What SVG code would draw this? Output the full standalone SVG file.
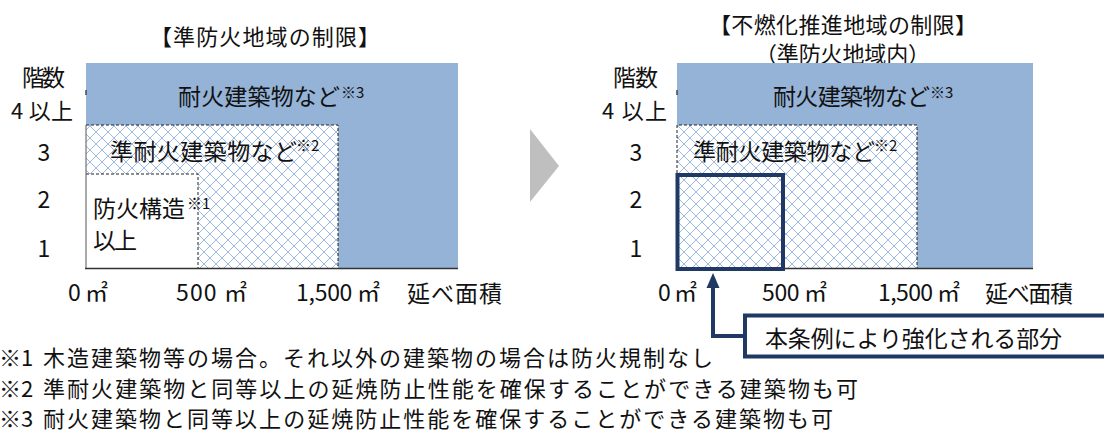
<svg xmlns="http://www.w3.org/2000/svg" width="1104" height="434" viewBox="0 0 1104 434">
<style>
text{font-family:"Noto Sans CJK JP","Noto Sans",sans-serif;fill:#111;}
.t{font-size:23px;}
.h{font-size:22px;}
.s{font-size:15px;}
.f{font-size:22px;}
.blue{fill:#95b3d7;}
.dash{fill:none;stroke:#222;stroke-width:1;stroke-dasharray:3 2;}
.axis{stroke:#333;stroke-width:1.6;fill:none;}
.navy{stroke:#1f3864;stroke-width:4;fill:none;}
</style>
<defs>
<pattern id="hatch" patternUnits="userSpaceOnUse" width="12" height="12">
<rect width="12" height="12" fill="#fff"/>
<path d="M0 0L12 12M12 0L0 12" stroke="#9dbae3" stroke-width="1"/>
</pattern>
</defs>
<rect width="1104" height="434" fill="#fff"/>

<!-- Titles -->
<g id="title-left"><text class="h" x="150" y="45" textLength="230" lengthAdjust="spacing">【準防火地域の制限】</text></g>
<g id="title-right">
<text class="h" x="709" y="33" textLength="268" lengthAdjust="spacing">【不燃化推進地域の制限】</text>
<text class="h" x="755" y="62" textLength="175" lengthAdjust="spacing">（準防火地域内）</text>
</g>

<!-- Left chart -->
<g id="left-fire-resistant">
<rect class="blue" x="86" y="63" width="372" height="205"/>
<text class="t" x="178" y="105" textLength="162" lengthAdjust="spacing">耐火建築物など</text>
<text class="s" x="341" y="98">※3</text>
</g>
<g id="left-quasi">
<rect x="86" y="125" width="252" height="143" fill="url(#hatch)"/>
<path class="dash" d="M86 125H338V268"/>
<text class="t" x="110" y="160" textLength="187" lengthAdjust="spacing">準耐火建築物など</text>
<text class="s" x="296" y="151">※2</text>
</g>
<g id="left-fireproof">
<rect x="86" y="174" width="112" height="94" fill="#fff"/>
<path class="dash" d="M86 174H198V268"/>
<text class="t" x="93" y="217" textLength="92" lengthAdjust="spacing">防火構造</text>
<text class="s" x="187" y="209">※1</text>
<text class="t" x="93" y="249" textLength="44" lengthAdjust="spacing">以上</text>
</g>
<g id="left-axes">
<line x1="86" y1="125" x2="86" y2="268" stroke="#555" stroke-width="1"/>
<line x1="86" y1="90" x2="86" y2="95" stroke="#444" stroke-width="1.5"/>
<line class="axis" x1="85" y1="268.5" x2="458" y2="268.5"/>
<text class="t" x="22" y="86" textLength="43" lengthAdjust="spacing">階数</text>
<text x="11" y="119" style="font-size:22px" textLength="62" lengthAdjust="spacing">4 以上</text>
<text class="t" x="44" y="161" text-anchor="middle">3</text>
<text class="t" x="44" y="208" text-anchor="middle">2</text>
<text class="t" x="44" y="257" text-anchor="middle">1</text>
<text class="t" x="68" y="301" textLength="40" lengthAdjust="spacing">0 ㎡</text>
<text class="t" x="176" y="301" textLength="71" lengthAdjust="spacing">500 ㎡</text>
<text class="t" x="296" y="301" textLength="84" lengthAdjust="spacing">1,500 ㎡</text>
<text class="t" x="407" y="302" textLength="95" lengthAdjust="spacing">延べ面積</text>
</g>

<!-- Transition arrow -->
<g id="transition-arrow"><polygon points="530,129 559,166 530,202" fill="#bfbfbf"/></g>

<!-- Right chart -->
<g id="right-fire-resistant">
<rect class="blue" x="677" y="63" width="356" height="205"/>
<text class="t" x="773" y="105" textLength="157" lengthAdjust="spacing">耐火建築物など</text>
<text class="s" x="930" y="98">※3</text>
</g>
<g id="right-quasi">
<rect x="677" y="125" width="240" height="143" fill="url(#hatch)"/>
<path class="dash" d="M677 268V125H917V268"/>
<text class="t" x="693" y="160" textLength="182" lengthAdjust="spacing">準耐火建築物など</text>
<text class="s" x="874" y="151">※2</text>
</g>
<g id="right-axes">
<line x1="677" y1="90" x2="677" y2="95" stroke="#444" stroke-width="1.5"/>
<line class="axis" x1="676" y1="268.5" x2="1033" y2="268.5"/>
<text class="t" x="613" y="86" textLength="45" lengthAdjust="spacing">階数</text>
<text x="602" y="119" style="font-size:22px" textLength="65" lengthAdjust="spacing">4 以上</text>
<text class="t" x="636" y="161" text-anchor="middle">3</text>
<text class="t" x="636" y="208" text-anchor="middle">2</text>
<text class="t" x="636" y="257" text-anchor="middle">1</text>
<text class="t" x="658" y="301" textLength="39" lengthAdjust="spacing">0 ㎡</text>
<text class="t" x="762" y="301" textLength="65" lengthAdjust="spacing">500 ㎡</text>
<text class="t" x="878" y="301" textLength="82" lengthAdjust="spacing">1,500 ㎡</text>
<text class="t" x="985" y="302" textLength="88" lengthAdjust="spacing">延べ面積</text>
</g>
<g id="strengthened-area"><rect class="navy" x="677.5" y="175" width="105.5" height="94"/></g>

<!-- Callout -->
<g id="callout">
<rect class="navy" x="745" y="315.5" width="380" height="41" fill="#fff"/>
<text class="t" x="765" y="347" textLength="297" lengthAdjust="spacing">本条例により強化される部分</text>
</g>
<g id="connectors">
<path class="navy" d="M745 336H713V286" stroke-width="3.5"/>
<polygon points="713,273 719.5,288 706.5,288" fill="#1f3864"/>
</g>

<!-- Footnotes -->
<g id="footnotes">
<text class="f" x="-1" y="366">※1</text>
<text class="f" x="43" y="366" textLength="670" lengthAdjust="spacing">木造建築物等の場合。それ以外の建築物の場合は防火規制なし</text>
<text class="f" x="-1" y="397">※2</text>
<text class="f" x="43" y="397" textLength="815" lengthAdjust="spacing">準耐火建築物と同等以上の延焼防止性能を確保することができる建築物も可</text>
<text class="f" x="-1" y="427">※3</text>
<text class="f" x="43" y="427" textLength="790" lengthAdjust="spacing">耐火建築物と同等以上の延焼防止性能を確保することができる建築物も可</text>
</g>
</svg>
